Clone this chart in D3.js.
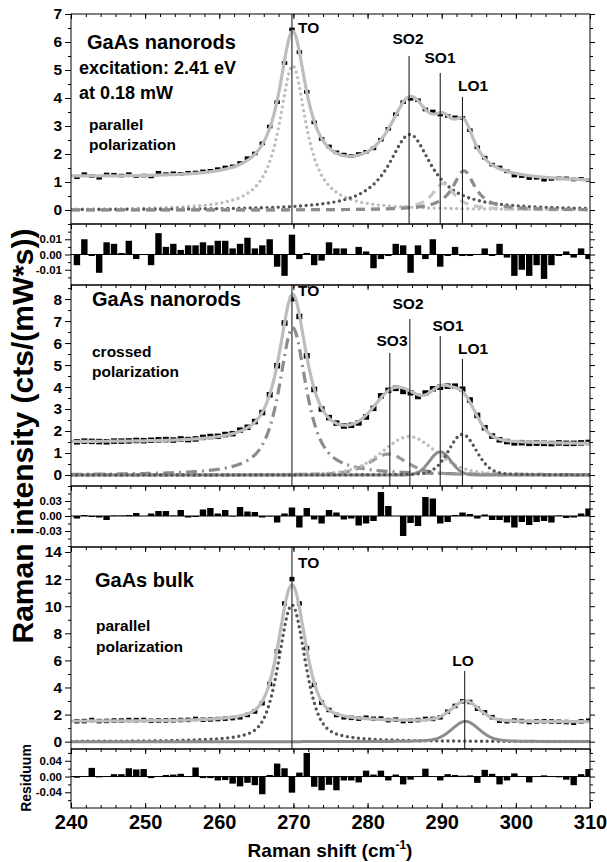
<!DOCTYPE html>
<html>
<head>
<meta charset="utf-8">
<script src="https://cdn.jsdelivr.net/npm/d3@7"></script>
<style>
  body { margin: 0; background: #fff; }
  text { font-family: "Liberation Sans", Arial, sans-serif; font-weight: bold; }
</style>
</head>
<body>
<svg id="chart" width="607" height="862"></svg>
<script>
// measured spectra, one point per cm-1, first one at 240.8
const firstShift = 240.8
const nanoParData = [1.17,1.28,1.21,1.15,1.27,1.26,1.23,1.28,1.21,1.23,
  1.20,1.33,1.28,1.31,1.29,1.33,1.34,1.38,1.40,1.46,
  1.52,1.56,1.68,1.85,2.02,2.38,2.98,3.85,5.25,6.45,
  5.64,4.22,3.13,2.54,2.27,2.06,1.98,1.93,2.00,2.08,
  2.20,2.51,2.90,3.42,3.85,3.97,3.92,3.59,3.52,3.41,
  3.36,3.31,3.29,2.85,2.24,1.87,1.62,1.52,1.38,1.23,
  1.21,1.14,1.15,1.08,1.11,1.13,1.13,1.09,1.11,1.06]
const nanoParResid = [-0.007,0.010,-0.001,-0.012,0.008,0.007,0.001,0.009,-0.003,0.000,
  -0.007,0.014,0.005,0.007,0.003,0.006,0.006,0.008,0.006,0.009,
  0.009,0.004,0.007,0.011,0.004,0.006,0.010,-0.008,-0.014,0.013,
  -0.003,0.001,-0.007,-0.004,0.008,0.004,0.004,0.000,0.005,0.002,
  -0.009,-0.003,-0.001,0.007,0.006,-0.012,0.006,-0.003,0.010,-0.008,
  -0.001,0.005,-0.001,-0.001,0.000,0.004,-0.001,0.007,-0.002,-0.014,
  -0.010,-0.014,-0.007,-0.016,-0.007,-0.001,0.002,-0.002,0.004,-0.003]

const nanoCrossData = [1.51,1.54,1.53,1.52,1.51,1.54,1.54,1.55,1.57,1.56,
  1.58,1.60,1.61,1.59,1.64,1.61,1.64,1.71,1.75,1.76,
  1.84,1.88,2.04,2.17,2.43,2.84,3.65,4.97,6.91,8.02,
  7.21,5.42,3.89,3.00,2.61,2.36,2.23,2.26,2.37,2.64,
  3.03,3.60,3.85,3.94,3.80,3.74,3.57,3.73,3.92,3.99,
  4.04,4.04,3.90,3.41,2.71,2.15,1.77,1.60,1.52,1.46,
  1.47,1.44,1.45,1.44,1.43,1.46,1.44,1.44,1.46,1.48]
const nanoCrossResid = [-0.005,0.002,-0.002,-0.003,-0.008,0.001,0.001,0.002,0.006,0.000,
  0.005,0.010,0.010,0.001,0.012,-0.003,-0.002,0.013,0.016,0.005,
  0.012,-0.001,0.018,0.009,0.008,-0.003,-0.001,-0.013,0.005,0.017,
  -0.023,0.016,-0.007,-0.015,0.012,0.007,-0.007,-0.005,-0.019,-0.015,
  -0.010,0.048,0.020,0.000,-0.040,-0.014,-0.020,0.038,0.035,-0.015,
  -0.012,0.002,0.007,0.004,-0.005,0.003,-0.008,-0.008,-0.013,-0.023,
  -0.012,-0.018,-0.012,-0.010,-0.013,0.001,-0.004,-0.003,0.005,0.015]

const bulkData = [1.51,1.52,1.60,1.52,1.53,1.56,1.56,1.60,1.59,1.60,
  1.54,1.56,1.57,1.58,1.60,1.61,1.68,1.62,1.64,1.67,
  1.70,1.74,1.80,1.97,2.23,2.84,4.26,6.67,10.2,12.0,
  10.2,6.90,4.19,2.88,2.34,1.97,1.80,1.76,1.70,1.77,
  1.69,1.71,1.59,1.63,1.52,1.55,1.60,1.68,1.68,1.80,
  2.21,2.64,2.98,2.93,2.44,2.16,1.81,1.55,1.51,1.56,
  1.52,1.45,1.50,1.51,1.49,1.47,1.45,1.40,1.50,1.55]
const bulkResid = [-0.003,-0.001,0.022,-0.002,0.000,0.006,0.006,0.021,0.018,0.019,
  -0.004,0.001,0.004,0.005,0.007,0.001,0.023,-0.004,-0.004,-0.010,
  -0.009,-0.018,-0.025,-0.016,-0.022,-0.045,0.004,0.033,0.021,-0.041,
  0.010,0.060,-0.026,-0.035,-0.021,-0.035,-0.010,-0.010,-0.015,0.015,
  0.005,0.015,-0.010,0.005,-0.020,-0.008,0.001,0.020,0.000,-0.010,
  0.006,0.004,0.002,0.003,-0.016,0.017,0.007,-0.020,-0.010,0.008,
  0.001,-0.015,0.001,0.003,0.000,-0.002,-0.008,-0.022,0.006,0.019]

// fitted bands: [centre, hwhm, height, lorentzian fraction], backgrounds: [at 240, at 310]
const nanoParBg = [1.17, 0.98]
const nanoParTO = [269.9, 2.2, 5.15, 1]
const nanoParSO2 = [285.7, 3.5, 2.7, 1]
const nanoParSO1 = [290.2, 1.8, 0.95, 1]
const nanoParLO1 = [293.0, 1.8, 1.4, 1]

const nanoCrossBg = [1.49, 1.39]
const nanoCrossTO = [269.9, 2.2, 6.7, 0.85]
const nanoCrossSO3 = [282.8, 3.0, 0.95, 0.5]
const nanoCrossSO2 = [285.6, 4.3, 1.75, 0.3]
const nanoCrossSO1 = [289.8, 1.7, 1.05, 0]
const nanoCrossLO1 = [292.8, 2.2, 1.85, 0.2]

const bulkBg = [1.5, 1.45]
const bulkTO = [269.8, 2.1, 10.1, 0.5]
const bulkLO = [293.2, 2.2, 1.5, 0.3]

// mode labels and where their marker lines sit (cm-1)
const nanoParModes = ['TO', 'SO2', 'SO1', 'LO1']
const nanoParModeShift = [269.8, 285.6, 289.8, 292.8]
const nanoCrossModes = ['TO', 'SO3', 'SO2', 'SO1', 'LO1']
const nanoCrossModeShift = [269.8, 283.0, 285.7, 289.8, 292.8]
const bulkModes = ['TO', 'LO']
const bulkModeShift = [269.8, 293.1]

const xTicks = [240, 250, 260, 270, 280, 290, 300, 310]
const nanoParTicks = [0, 1, 2, 3, 4, 5, 6, 7]
const nanoCrossTicks = [0, 1, 2, 3, 4, 5, 6, 7, 8]
const bulkTicks = [0, 2, 4, 6, 8, 10, 12, 14]
const nanoParResTicks = [-0.01, 0, 0.01]
const nanoCrossResTicks = [-0.03, 0, 0.03]
const bulkResTicks = [-0.04, 0, 0.04]

const FONT = '"Liberation Sans", Arial, sans-serif'
const svg = d3.select('#chart')
const x = d3.scaleLinear().domain([240, 310]).range([71, 590])
const shifts = nanoParData.map((d, i) => firstShift + i)
const fine = d3.range(240, 310.001, 0.1)
const xMinor = d3.range(240, 311, 2)

const band = p => s => {
  const u2 = ((s - p[0]) / p[1]) ** 2
  return p[2] * (p[3] / (1 + u2) + (1 - p[3]) * Math.exp(-Math.LN2 * u2))
}
const slope = bg => s => bg[0] + (bg[1] - bg[0]) * (s - 240) / 70

const styles = {
  lightDot: {stroke: '#bdbdbd', dash: '0 5.6', width: 3.4, cap: 'round'},
  darkDot: {stroke: '#555', dash: '0 5.6', width: 3.4, cap: 'round'},
  lightDash: {stroke: '#c6c6c6', dash: '9 6', width: 3.2, cap: 'butt'},
  midDash: {stroke: '#8c8c8c', dash: '9 6', width: 3.2, cap: 'butt'},
  greyDash: {stroke: '#999', dash: '9 6', width: 3.2, cap: 'butt'},
  dashDot: {stroke: '#8c8c8c', dash: '11 5 2 5', width: 3.2, cap: 'butt'},
  midSolid: {stroke: '#8c8c8c', dash: null, width: 3, cap: 'butt'},
  fit: {stroke: '#bdbdbd', dash: null, width: 3.2, cap: 'butt'}
}

const clean = g => g.select('.domain').remove()

function frame(y, top, bottom, major, minor, fmt, size) {
  svg.append('rect').attr('x', 71).attr('y', top).attr('width', 519).attr('height', bottom - top)
    .attr('fill', 'none').attr('stroke', '#000').attr('stroke-width', 1)
  const ax = (axis, tx, ty) => svg.append('g').attr('transform', `translate(${tx},${ty})`).call(axis).call(clean)
  ax(d3.axisLeft(y).tickValues(minor).tickSize(3).tickFormat(''), 71, 0)
  ax(d3.axisRight(y).tickValues(minor).tickSize(3).tickFormat(''), 590, 0)
  ax(d3.axisRight(y).tickValues(major).tickSize(5).tickFormat(''), 590, 0)
  ax(d3.axisLeft(y).tickValues(major).tickSize(6).tickPadding(3).tickFormat(fmt), 71, 0)
    .attr('font-family', FONT).attr('font-size', size).attr('font-weight', 'bold')
    .selectAll('text').attr('fill', '#000')
  ax(d3.axisBottom(x).tickValues(xMinor).tickSize(3).tickFormat(''), 0, top)
  ax(d3.axisBottom(x).tickValues(xTicks).tickSize(5).tickFormat(''), 0, top)
}

function drawSpectrum(o) {
  const y = d3.scaleLinear().domain(o.domain).range([o.bottom, o.top])
  const id = 'clip' + o.top
  svg.append('clipPath').attr('id', id).append('rect')
    .attr('x', 71).attr('y', o.top).attr('width', 519).attr('height', o.bottom - o.top)
  const plot = svg.append('g').attr('clip-path', `url(#${id})`)
  const line = d3.line().x(d => x(d[0])).y(d => y(d[1]))

  const fs = o.bands.map(band)
  fs.forEach((f, i) => {
    const st = styles[o.styles[i]]
    plot.append('path').datum(fine.map(s => [s, f(s)]))
      .attr('d', line).attr('fill', 'none')
      .attr('stroke', st.stroke).attr('stroke-width', st.width)
      .attr('stroke-dasharray', st.dash).attr('stroke-linecap', st.cap)
  })

  plot.selectAll(null).data(o.data).join('rect')
    .attr('x', (d, i) => x(shifts[i]) - o.marker[0] / 2)
    .attr('y', d => y(d) - o.marker[1] / 2)
    .attr('width', o.marker[0]).attr('height', o.marker[1])
    .attr('fill', '#000')

  const bg = slope(o.bg)
  plot.append('path').datum(fine.map(s => [s, bg(s) + d3.sum(fs, f => f(s))]))
    .attr('d', line).attr('fill', 'none')
    .attr('stroke', styles.fit.stroke).attr('stroke-width', styles.fit.width)

  o.modeShift.forEach((s, i) => {
    svg.append('line').attr('x1', x(s)).attr('x2', x(s))
      .attr('y1', o.lineTop[i]).attr('y2', o.bottom)
      .attr('stroke', '#222').attr('stroke-width', 1.1)
    const lb = o.labelAt[i]
    svg.append('text').attr('x', lb[0]).attr('y', lb[1])
      .attr('text-anchor', i === 0 ? 'start' : 'middle')
      .attr('font-size', 15.5).text(o.modes[i])
  })

  o.notes.forEach(n => {
    svg.append('text').attr('x', n[1]).attr('y', n[2]).attr('font-size', n[3]).text(n[0])
  })

  frame(y, o.top, o.bottom, o.ticks, o.minor, d3.format('d'), 15.5)
}

function drawResidual(o) {
  const y = d3.scaleLinear().domain(o.domain).range([o.bottom, o.top])
  const step = x(241) - x(240)
  const id = 'clip' + o.top
  svg.append('clipPath').attr('id', id).append('rect')
    .attr('x', 71).attr('y', o.top).attr('width', 519).attr('height', o.bottom - o.top)
  const plot = svg.append('g').attr('clip-path', `url(#${id})`)
  plot.append('line').attr('x1', 71).attr('x2', 590).attr('y1', y(0)).attr('y2', y(0))
    .attr('stroke', '#000').attr('stroke-width', 1)
  plot.selectAll(null).data(o.values).join('rect')
    .attr('x', (d, i) => x(shifts[i]) - step / 2 + 0.5)
    .attr('width', step - 1)
    .attr('y', d => y(Math.max(0, d)))
    .attr('height', d => Math.abs(y(d) - y(0)))
    .attr('fill', '#000')
  frame(y, o.top, o.bottom, o.ticks, o.minor, v => v.toFixed(2), 11.5)
}

drawSpectrum({
  top: 14, bottom: 224, domain: [-0.5, 7],
  data: nanoParData, bg: nanoParBg,
  bands: [nanoParTO, nanoParSO2, nanoParSO1, nanoParLO1],
  styles: ['lightDot', 'darkDot', 'lightDash', 'midDash'],
  marker: [5.5, 3.6],
  modes: nanoParModes, modeShift: nanoParModeShift,
  lineTop: [14, 56, 73, 97],
  labelAt: [[298, 32.5], [408, 43.5], [440, 62.5], [473, 90.5]],
  notes: [['GaAs nanorods', 87, 49, 20], ['excitation: 2.41 eV', 79, 73.5, 18],
    ['at 0.18 mW', 79, 98.5, 18], ['parallel', 89, 129.5, 15.5], ['polarization', 89, 149.5, 15.5]],
  ticks: nanoParTicks, minor: d3.range(-0.5, 7.01, 0.5)
})

drawResidual({
  top: 224, bottom: 285, domain: [-0.02, 0.02], values: nanoParResid,
  ticks: nanoParResTicks, minor: [-0.015, -0.005, 0.005, 0.015]
})

drawSpectrum({
  top: 285, bottom: 486, domain: [-0.5, 8.64],
  data: nanoCrossData, bg: nanoCrossBg,
  bands: [nanoCrossTO, nanoCrossSO3, nanoCrossSO2, nanoCrossSO1, nanoCrossLO1],
  styles: ['dashDot', 'greyDash', 'lightDot', 'midSolid', 'darkDot'],
  marker: [6, 5.5],
  modes: nanoCrossModes, modeShift: nanoCrossModeShift,
  lineTop: [285, 353, 319, 336, 359],
  labelAt: [[298, 296], [392, 345.5], [408, 308.5], [448, 330.5], [473, 353.5]],
  notes: [['GaAs nanorods', 92, 306, 20], ['crossed', 92, 356.5, 15.5], ['polarization', 92, 376.5, 15.5]],
  ticks: nanoCrossTicks, minor: d3.range(-0.5, 8.51, 0.5)
})

drawResidual({
  top: 486, bottom: 547, domain: [-0.062, 0.06], values: nanoCrossResid,
  ticks: nanoCrossResTicks, minor: [-0.06, -0.045, -0.015, 0.015, 0.045, 0.06]
})

drawSpectrum({
  top: 547, bottom: 749, domain: [-0.54, 14.37],
  data: bulkData, bg: bulkBg,
  bands: [bulkTO, bulkLO],
  styles: ['darkDot', 'midSolid'],
  marker: [5, 4.5],
  modes: bulkModes, modeShift: bulkModeShift,
  lineTop: [547, 671],
  labelAt: [[298, 567.5], [463, 665.5]],
  notes: [['GaAs bulk', 95, 587, 20], ['parallel', 96, 630.5, 15.5], ['polarization', 96, 651.5, 15.5]],
  ticks: bulkTicks, minor: d3.range(1, 14, 2)
})

drawResidual({
  top: 749, bottom: 808, domain: [-0.08, 0.07], values: bulkResid,
  ticks: bulkResTicks, minor: [-0.06, -0.02, 0.02, 0.06]
})

// bottom axis with labels
svg.append('g').attr('transform', 'translate(0,808)')
  .call(d3.axisBottom(x).tickValues(xMinor).tickSize(-3).tickFormat('')).call(clean)
svg.append('g').attr('transform', 'translate(0,808)')
  .call(d3.axisBottom(x).tickValues(xTicks).tickSize(-5).tickPadding(7).tickFormat(d3.format('d')))
  .call(clean)
  .attr('font-family', FONT).attr('font-size', 20).attr('font-weight', 'bold')
  .selectAll('text').attr('fill', '#000')

const xTitle = svg.append('text').attr('x', 330).attr('y', 857)
  .attr('text-anchor', 'middle').attr('font-size', 19)
xTitle.append('tspan').text('Raman shift (cm')
xTitle.append('tspan').attr('font-size', 12).attr('dy', -8).text('-1')
xTitle.append('tspan').attr('dy', 8).text(')')

svg.append('text').attr('transform', 'translate(33,436) rotate(-90)')
  .attr('text-anchor', 'middle').attr('font-size', 30)
  .text('Raman intensity (cts/(mW*s))')

svg.append('text').attr('transform', 'translate(31,778) rotate(-90)')
  .attr('text-anchor', 'middle').attr('font-size', 14)
  .text('Residuum')
</script>
</body>
</html>
